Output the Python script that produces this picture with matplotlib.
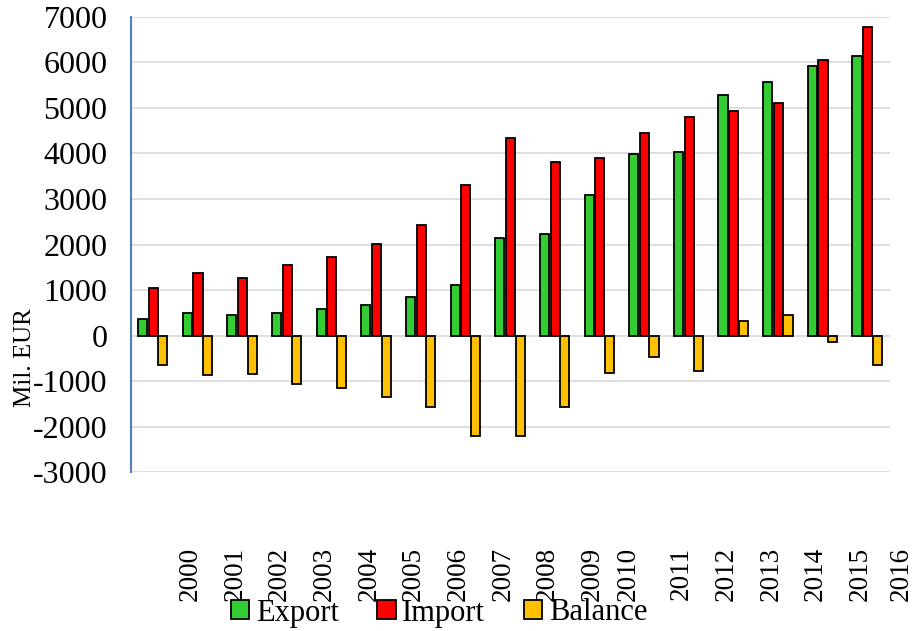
import numpy as np
import matplotlib
matplotlib.use("Agg")
import matplotlib.pyplot as plt
from matplotlib.patches import Patch

plt.rcParams['font.family'] = ['Liberation Serif', 'DejaVu Serif']
plt.rcParams['axes.unicode_minus'] = False

years = ['2000', '2001', '2002', '2003', '2004', '2005', '2006', '2007', '2008',
         '2009', '2010', '2011', '2012', '2013', '2014', '2015', '2016']
export_vals = [370, 496, 452, 496, 585, 681, 848, 1118, 2149, 2237, 3092, 3987,
               4031, 5289, 5567, 5918, 6145]
import_vals = [1044, 1370, 1267, 1541, 1726, 2020, 2420, 3311, 4342, 3808, 3896,
               4440, 4799, 4930, 5113, 6050, 6774]
balance_vals = [-644, -874, -837, -1059, -1156, -1352, -1572, -2200, -2200, -1572,
                -819, -461, -775, 315, 454, -146, -636]
series_names = ['Export', 'Import', 'Balance']
colors = ['#33CC33', '#FF0000', '#FFC000']
yticks = [-3000, -2000, -1000, 0, 1000, 2000, 3000, 4000, 5000, 6000, 7000]

fig = plt.figure(figsize=(9.14, 6.31), dpi=100)
ax = fig.add_axes([131/914, 1 - 472.3/631, 759/914, 455.6/631])

x = np.arange(len(export_vals))
w = 0.205
offsets = [-0.24, 0.0, 0.215]
for vals, off, c in zip([export_vals, import_vals, balance_vals], offsets, colors):
    ax.bar(x + off, vals, width=w, color=c, edgecolor='black', linewidth=1.3, zorder=3)

ax.set_xticks([])
ax.set_xlim(-0.5, len(export_vals) - 0.5)
ax.set_ylim(-3000, 7000)
ax.set_yticks(yticks)
ax.set_yticklabels([str(t) for t in yticks], fontsize=23)
ax.yaxis.grid(True, color='#D9D9D9', linewidth=1.2, zorder=0)
ax.set_axisbelow(True)
ax.tick_params(axis='y', length=0, pad=17)

# year labels (offset from the groups as in the reference)
label_pos = np.arange(len(years)) + 0.83
label_pos[10] = 10.64
label_pos[16] = 16.76
for lx, yr in zip(label_pos, years):
    ax.text(lx, -0.163, yr, transform=ax.get_xaxis_transform(), rotation=90,
            ha='center', va='top', fontsize=19.5, clip_on=False)

for s in ['top', 'right', 'bottom']:
    ax.spines[s].set_visible(False)
ax.spines['left'].set_color('#4F81BD')
ax.spines['left'].set_linewidth(1.5)

fig.text(25/914, 1 - 358/631, 'Mil. EUR', rotation=90, ha='center', va='center',
         fontsize=18)

handles = [Patch(facecolor=c, edgecolor='black', linewidth=1.3) for c in colors]
fig.legend(handles, series_names, loc='center', bbox_to_anchor=(439/914, 1 - 613/631),
           ncol=3, frameon=False, fontsize=22, handlelength=0.6, handleheight=0.6,
           handletextpad=0.22, columnspacing=1.27, borderpad=0, borderaxespad=0)

fig.savefig('out.png', dpi=100)
